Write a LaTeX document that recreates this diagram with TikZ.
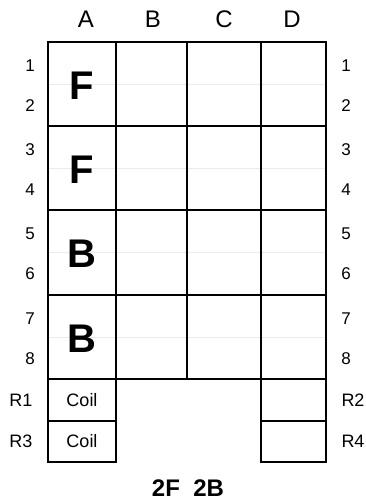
\documentclass[tikz,border=0pt]{standalone}
\usepackage{fontspec}
\setmainfont{Liberation Sans}
\usetikzlibrary{positioning}

\begin{document}
\begin{tikzpicture}[x=1pt, y=-1pt,
        grid/.style={line width=2pt},
        faint/.style={draw=black!8, line width=0.6pt},
        collab/.style={inner sep=0pt, font=\fontsize{24}{24}\selectfont},
        rowlab/.style={inner sep=0pt, font=\fontsize{17}{17}\selectfont},
        reglab/.style={inner sep=0pt, font=\fontsize{18}{18}\selectfont},
        bigmark/.style={inner sep=0pt, font=\fontsize{40}{40}\selectfont\bfseries}]
        \useasboundingbox (0,0) rectangle (366,500);

        % faint half-row lines
        \foreach \y in {84,168,252,337}
            \draw[faint] (48,\y) -- (326,\y);

        % main grid
        \draw[grid] (48,42) rectangle (326,379);
        \foreach \y in {126,210,295}
            \draw[grid] (48,\y) -- (326,\y);
        \foreach \x in {116,187,261}
            \draw[grid] (\x,42) -- (\x,379);

        % coil boxes below the grid
        \draw[grid] (48,379) rectangle (116,462);
        \draw[grid] (48,421) -- (116,421);
        \draw[grid] (261,379) rectangle (326,462);
        \draw[grid] (261,421) -- (326,421);

        % column labels
        \foreach \c/\x in {A/86,B/153,C/224,D/292}
            \node[collab] (col\c) at (\x,19) {\c};

        % row labels both sides
        \foreach \r/\y in {1/66,2/106,3/150,4/190,5/234,6/274,7/319,8/359} {
            \node[rowlab] (left\r) at (30,\y) {\r};
            \node[rowlab] (right\r) at (346,\y) {\r};
        }

        % marks in column A
        \node[bigmark] (mark1) at (82,86) {F};
        \node[bigmark] (mark2) at (82,170) {F};
        \node[bigmark] (mark3) at (82,254) {B};
        \node[bigmark] (mark4) at (82,339) {B};

        % coil rows
        \node[reglab] (r1) at (21,400) {R1};
        \node[reglab] (r3) at (21,441) {R3};
        \node[reglab] (r2) at (353,400) {R2};
        \node[reglab] (r4) at (353,441) {R4};
        \node[reglab] (coil1) at (82,400) {Coil};
        \node[reglab] (coil2) at (82,441) {Coil};

        % summary
        \node[collab, font=\fontsize{24}{24}\selectfont\bfseries] (summary) at (188,488) {2F\ \ 2B};
\end{tikzpicture}
\end{document}
